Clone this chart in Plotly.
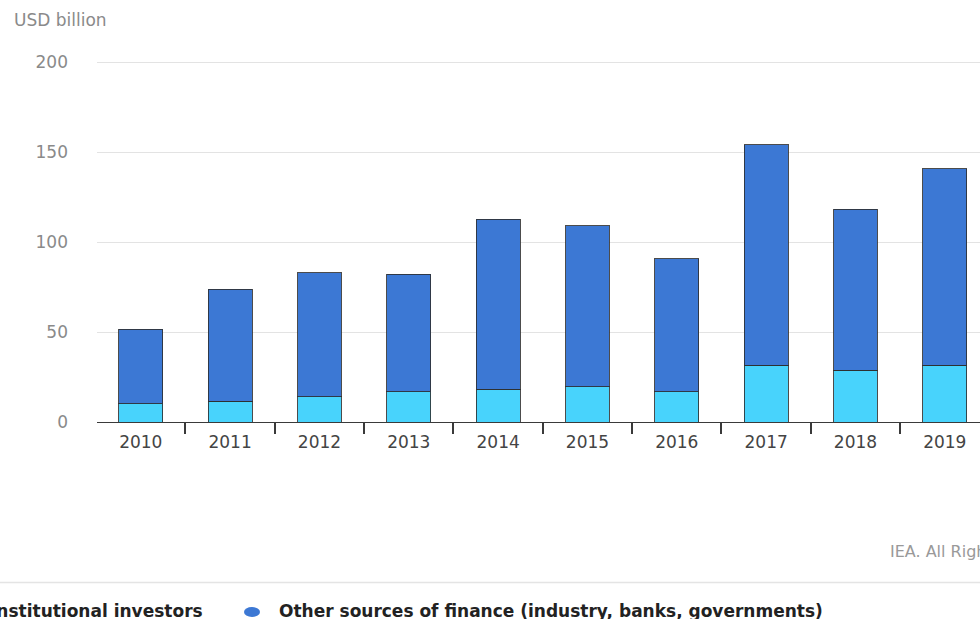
import plotly.graph_objects as go

# Investment volumes, USD billion
years = ["2010", "2011", "2012", "2013", "2014", "2015", "2016", "2017", "2018", "2019"]
institutional = [10.2, 11.5, 14.1, 16.9, 18.2, 19.5, 16.9, 31.4, 28.8, 31.4]
other_sources = [41.2, 62.3, 68.8, 65.3, 94.4, 89.6, 73.8, 122.6, 89.4, 109.4]
y_ticks = [0, 50, 100, 150, 200]

series_names = ["Institutional investors", "Other sources of finance (industry, banks, governments)"]
LIGHT = "#48d3fc"
DARK = "#3c78d4"
FONT = "DejaVu Sans"

W, H = 980, 619
ML, MR, MT, MB = 97, 0, 53, 197
PW, PH = W - ML - MR, H - MT - MB


def px_x(px):
    return (px - ML) / PW


def px_y(py):
    return (H - MB - py) / PH


fig = go.Figure()
outline = dict(color="rgba(45,45,45,0.85)", width=1)
fig.add_trace(go.Bar(x=years, y=institutional, name=series_names[0],
                     marker=dict(color=LIGHT, line=outline), width=0.49))
fig.add_trace(go.Bar(x=years, y=other_sources, name=series_names[1],
                     marker=dict(color=DARK, line=outline), width=0.49))

annotations = [
    dict(text="USD billion", x=px_x(12), y=px_y(20), xref="paper", yref="paper",
         xanchor="left", yanchor="middle", showarrow=False,
         font=dict(family=FONT, size=17, color="#8a8a8a")),
    dict(text="IEA. All Rights Reserved", x=px_x(888), y=px_y(551), xref="paper", yref="paper",
         xanchor="left", yanchor="middle", showarrow=False,
         font=dict(family=FONT, size=16, color="#999999")),
    dict(text=series_names[0], x=px_x(205), y=px_y(611), xref="paper", yref="paper",
         xanchor="right", yanchor="middle", showarrow=False,
         font=dict(family=FONT, size=17, color="#222222", weight="bold")),
    dict(text=series_names[1], x=px_x(277), y=px_y(611), xref="paper", yref="paper",
         xanchor="left", yanchor="middle", showarrow=False,
         font=dict(family=FONT, size=17, color="#222222", weight="bold")),
]

shapes = [
    # separator above the legend row
    dict(type="line", xref="paper", yref="paper", x0=px_x(0), x1=px_x(W),
         y0=px_y(582.5), y1=px_y(582.5), line=dict(color="#e4e4e4", width=1.5)),
    # legend markers
    dict(type="circle", xref="paper", yref="paper", x0=px_x(-42), x1=px_x(-26),
         y0=px_y(617), y1=px_y(607), fillcolor=LIGHT, line=dict(width=0)),
    dict(type="circle", xref="paper", yref="paper", x0=px_x(244), x1=px_x(260),
         y0=px_y(617), y1=px_y(607), fillcolor=DARK, line=dict(width=0)),
]

fig.update_layout(
    barmode="stack",
    width=W, height=H,
    margin=dict(l=ML, r=MR, t=MT, b=MB, autoexpand=False),
    paper_bgcolor="white", plot_bgcolor="white",
    showlegend=False,
    font=dict(family=FONT),
    annotations=annotations,
    shapes=shapes,
)
fig.update_xaxes(
    type="category", range=[-0.49, 9.394],
    showline=True, linecolor="#3a3a3a", linewidth=1.2,
    ticks="outside", tickson="boundaries", ticklen=11, tickwidth=1.5, tickcolor="#3a3a3a",
    ticklabelstandoff=4,
    tickfont=dict(family=FONT, size=17, color="#444444"),
    showgrid=False,
)
fig.update_yaxes(
    range=[0, 205], tickvals=y_ticks,
    showgrid=True, gridcolor="#e3e3e3", gridwidth=1,
    zeroline=False, showline=False, ticks="",
    ticklabelstandoff=28,
    tickfont=dict(family=FONT, size=17, color="#8a8a8a"),
)

fig.write_html("out.html")
